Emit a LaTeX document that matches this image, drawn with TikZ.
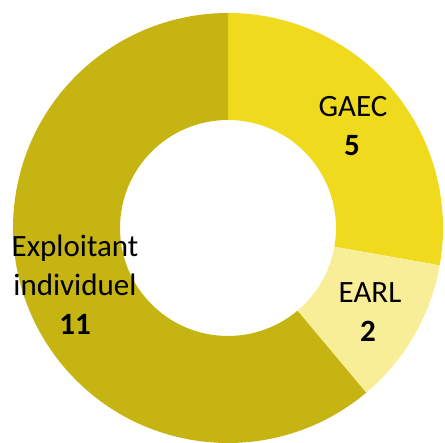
\documentclass[tikz,border=0pt]{standalone}
\usepackage{fontspec}
\setmainfont{Carlito}
\definecolor{gaecfill}{RGB}{240,218,30}
\definecolor{earlfill}{RGB}{249,238,152}
\definecolor{indivfill}{RGB}{197,180,18}
\tikzset{every picture/.style={line width=0.75pt},
  lbl/.style={anchor=base,inner sep=0pt,font=\fontsize{31}{39}\selectfont},
  num/.style={lbl,font=\fontsize{31}{39}\selectfont\bfseries}}

\begin{document}
\begin{tikzpicture}[x=1pt,y=1pt]
\useasboundingbox (0,0) rectangle (445,443);

\begin{scope}[shift={(228,215)}]
%GAEC slice
\fill [gaecfill] (90:215) arc[start angle=90,end angle=-10,radius=215] -- (-10:108) arc[start angle=-10,end angle=90,radius=108] -- cycle;
%EARL slice
\fill [earlfill] (-10:215) arc[start angle=-10,end angle=-50,radius=215] -- (-50:108) arc[start angle=-50,end angle=-10,radius=108] -- cycle;
%Exploitant individuel slice
\fill [indivfill] (-50:215) arc[start angle=-50,end angle=-270,radius=215] -- (-270:108) arc[start angle=-270,end angle=-50,radius=108] -- cycle;
\end{scope}

% Text Node
\node [lbl] (gaec) at (353,326) {GAEC};
\node [num] (gaecn) at (352,287) {5};
% Text Node
\node [lbl] (earl) at (370,140) {EARL};
\node [num] (earln) at (368,101) {2};
% Text Node
\node [lbl] (indiv) at (75,186) {Exploitant};
\node [lbl] (indivb) at (75,147) {individuel};
\node [num] (indivn) at (75,108) {11};

\end{tikzpicture}
\end{document}
